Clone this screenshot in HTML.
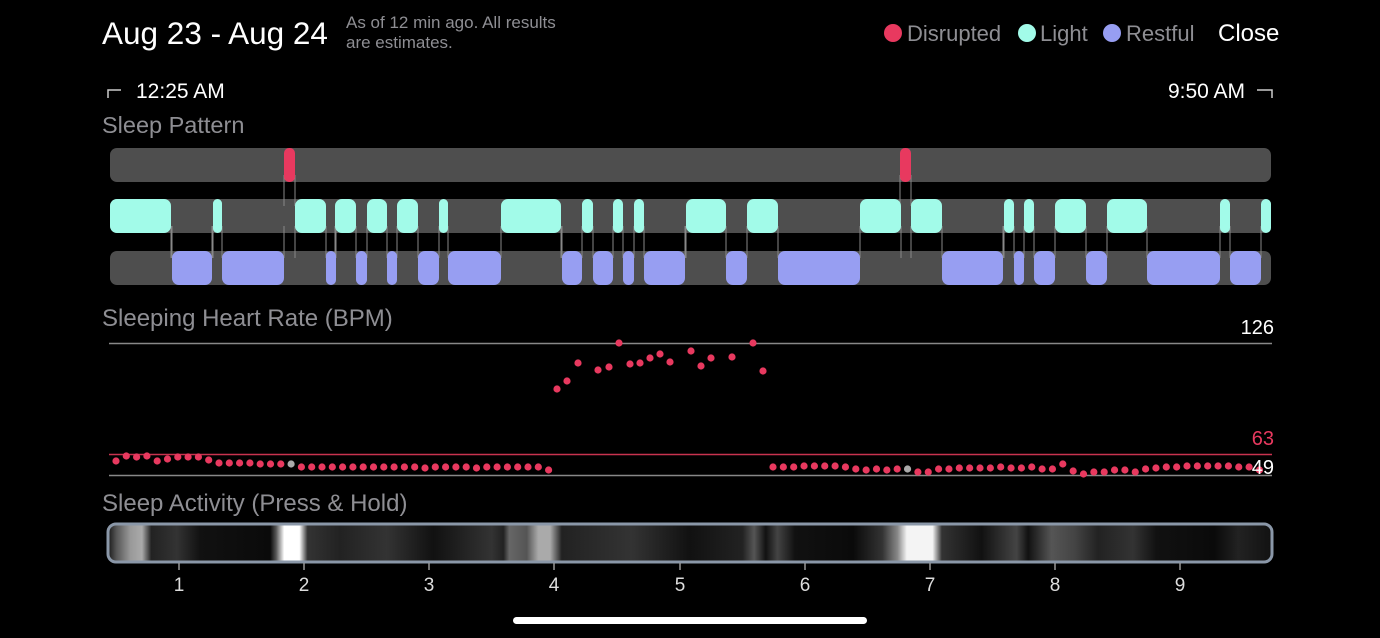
<!DOCTYPE html>
<html><head><meta charset="utf-8">
<style>
html,body{margin:0;padding:0;background:#000;width:1380px;height:638px;overflow:hidden;font-family:"Liberation Sans",sans-serif}
svg{position:absolute;left:0;top:0}
</style></head><body>
<svg id="s" width="1380" height="638" xmlns="http://www.w3.org/2000/svg">
<defs>
<linearGradient id="act" x1="107" x2="1273" y1="0" y2="0" gradientUnits="userSpaceOnUse">
<stop offset="0" stop-color="#111"/>
<stop offset="0.008" stop-color="#555"/>
<stop offset="0.02" stop-color="#999"/>
<stop offset="0.03" stop-color="#aaa"/>
<stop offset="0.038" stop-color="#222"/>
<stop offset="0.06" stop-color="#333"/>
<stop offset="0.08" stop-color="#111"/>
<stop offset="0.14" stop-color="#0a0a0a"/>
<stop offset="0.145" stop-color="#555"/>
<stop offset="0.152" stop-color="#fff"/>
<stop offset="0.165" stop-color="#fff"/>
<stop offset="0.172" stop-color="#333"/>
<stop offset="0.2" stop-color="#222"/>
<stop offset="0.24" stop-color="#333"/>
<stop offset="0.28" stop-color="#111"/>
<stop offset="0.33" stop-color="#333"/>
<stop offset="0.34" stop-color="#222"/>
<stop offset="0.345" stop-color="#666"/>
<stop offset="0.36" stop-color="#555"/>
<stop offset="0.37" stop-color="#aaa"/>
<stop offset="0.38" stop-color="#aaa"/>
<stop offset="0.39" stop-color="#222"/>
<stop offset="0.45" stop-color="#333"/>
<stop offset="0.5" stop-color="#111"/>
<stop offset="0.545" stop-color="#222"/>
<stop offset="0.555" stop-color="#555"/>
<stop offset="0.565" stop-color="#111"/>
<stop offset="0.575" stop-color="#444"/>
<stop offset="0.59" stop-color="#111"/>
<stop offset="0.64" stop-color="#0a0a0a"/>
<stop offset="0.665" stop-color="#333"/>
<stop offset="0.678" stop-color="#888"/>
<stop offset="0.686" stop-color="#f4f4f4"/>
<stop offset="0.708" stop-color="#f4f4f4"/>
<stop offset="0.716" stop-color="#333"/>
<stop offset="0.75" stop-color="#111"/>
<stop offset="0.77" stop-color="#333"/>
<stop offset="0.78" stop-color="#444"/>
<stop offset="0.79" stop-color="#111"/>
<stop offset="0.81" stop-color="#555"/>
<stop offset="0.83" stop-color="#444"/>
<stop offset="0.85" stop-color="#222"/>
<stop offset="0.88" stop-color="#333"/>
<stop offset="0.9" stop-color="#111"/>
<stop offset="0.95" stop-color="#0a0a0a"/>
<stop offset="0.97" stop-color="#222"/>
<stop offset="1" stop-color="#111"/>
</linearGradient>
</defs>
<text x="102" y="44" font-size="31.5" fill="#fff">Aug 23 - Aug 24</text>
<text x="346" y="28" font-size="17" fill="#8e8e93">As of 12 min ago. All results</text>
<text x="346" y="48" font-size="17" fill="#8e8e93">are estimates.</text>
<circle cx="893" cy="33" r="9" fill="#e8395f"/>
<text x="907" y="41" font-size="22" fill="#8e8e93">Disrupted</text>
<circle cx="1027" cy="33" r="9" fill="#a2fbe9"/>
<text x="1040" y="41" font-size="22" fill="#8e8e93">Light</text>
<circle cx="1112" cy="33" r="9" fill="#979ef2"/>
<text x="1126" y="41" font-size="22" fill="#8e8e93">Restful</text>
<text x="1218" y="41" font-size="24" fill="#fff">Close</text>
<path d="M108 98 V90 H121" stroke="#ccc" stroke-width="1.5" fill="none"/>
<text x="136" y="98" font-size="21" fill="#fff">12:25 AM</text>
<text x="1245" y="98" font-size="21" fill="#fff" text-anchor="end">9:50 AM</text>
<path d="M1257 90 H1272 V98" stroke="#ccc" stroke-width="1.5" fill="none"/>
<text x="102" y="133" font-size="23.5" fill="#8e8e93">Sleep Pattern</text>
<rect x="110" y="148" width="1161" height="34" rx="7" fill="#4e4e4e"/>
<rect x="110" y="199" width="1161" height="34" rx="7" fill="#4e4e4e"/>
<rect x="110" y="251" width="1161" height="34" rx="7" fill="#4e4e4e"/>
<g id="bars"></g>
<text x="102" y="326" font-size="24" fill="#8e8e93">Sleeping Heart Rate (BPM)</text>
<line x1="109" x2="1272" y1="343.5" y2="343.5" stroke="#888" stroke-width="1.5"/>
<text x="1274" y="334" font-size="20" fill="#fff" text-anchor="end">126</text>
<line x1="109" x2="1272" y1="454.5" y2="454.5" stroke="#c8334f" stroke-width="1.5"/>
<text x="1274" y="445" font-size="20" fill="#e8395f" text-anchor="end">63</text>
<line x1="109" x2="1272" y1="475.5" y2="475.5" stroke="#888" stroke-width="1.5"/>
<g id="dots"></g>
<text x="1274" y="474" font-size="20" fill="#fff" text-anchor="end">49</text>
<text x="102" y="511" font-size="24" fill="#8e8e93">Sleep Activity (Press &amp; Hold)</text>
<rect x="108" y="524" width="1164" height="38" rx="8" fill="url(#act)" stroke="#8a97a8" stroke-width="3"/>
<g id="ticks" font-size="19" fill="#ddd" text-anchor="middle"></g>
<rect x="513" y="617" width="354" height="7" rx="3.5" fill="#fff"/>
</svg>
<script>
var NS="http://www.w3.org/2000/svg";
function el(p,t,a){var e=document.createElementNS(NS,t);for(var k in a)e.setAttribute(k,a[k]);p.appendChild(e);return e;}
var bars=document.getElementById('bars');
var light=[[110,171],[213,222],[295,326],[335,356],[367,387],[397,418],[439,448],[501,561],[582,593],[613,623],[634,644],[686,726],[747,778],[860,901],[911,942],[1004,1014],[1024,1034],[1055,1086],[1107,1147],[1220,1230],[1261,1271]];
var rest=[[172,212],[222,284],[326,336],[356,367],[387,397],[418,439],[448,501],[562,582],[593,613],[623,634],[644,685],[726,747],[778,860],[942,1003],[1014,1024],[1034,1055],[1086,1107],[1147,1220],[1230,1261]];
var dis=[[284,295],[900,911]];
var cx=[];light.concat(rest).forEach(function(s){cx.push(s[0],s[1]);});
cx.forEach(function(x){if(x>112&&x<1269)el(bars,'line',{x1:x,x2:x,y1:226,y2:258,stroke:'#888','stroke-width':1});});
dis.forEach(function(s){[s[0],s[1]].forEach(function(x){el(bars,'line',{x1:x,x2:x,y1:175,y2:206,stroke:'#888','stroke-width':1});});});
light.forEach(function(s){el(bars,'rect',{x:s[0],y:199,width:s[1]-s[0],height:34,rx:Math.min(7,(s[1]-s[0])/2),fill:'#a2fbe9'});});
rest.forEach(function(s){el(bars,'rect',{x:s[0],y:251,width:s[1]-s[0],height:34,rx:Math.min(7,(s[1]-s[0])/2),fill:'#979ef2'});});
dis.forEach(function(s){el(bars,'rect',{x:s[0],y:148,width:s[1]-s[0],height:34,rx:5,fill:'#e8395f'});});
var dots=document.getElementById('dots');
var up=[[557,389],[567,381],[578,363],[598,370],[609,367],[619,343],[630,364],[640,363],[650,358],[660,354],[670,362],[691,351],[701,366],[711,358],[732,357],[753,343],[763,371]];
up.forEach(function(p){el(dots,'circle',{cx:p[0],cy:p[1],r:3.6,fill:'#e8395f'});});
var ly=[461,456,457,456,461,459,457,457,457,460,463,463,463,463,464,464,464,464,467,467,467,467,467,467,467,467,467,467,467,467,468,467,467,467,467,468,467,467,467,467,467,467,470,471,471,474];
ly.forEach(function(y,i){var x=116+10.3*i;if(x>549)return;el(dots,'circle',{cx:x,cy:y,r:3.6,fill:(i==17?'#aaa':'#e8395f')});});
var ry=[467,467,467,466,466,466,466,467,469,470,469,470,469,469,472,472,469,469,468,468,468,468,467,468,468,467,469,469,464,471,474,472,472,470,470,472,469,468,467,467,466,466,466,466,466,467,467,470];
ry.forEach(function(y,i){var x=773+10.35*i;el(dots,'circle',{cx:x,cy:y,r:3.6,fill:(i==13?'#aaa':'#e8395f')});});
var tk=document.getElementById('ticks');
[179,304,429,554,680,805,930,1055,1180].forEach(function(x,i){el(tk,'line',{x1:x,x2:x,y1:563,y2:570,stroke:'#999','stroke-width':1.5});var t=el(tk,'text',{x:x,y:591});t.textContent=i+1;});
</script>
</body></html>
